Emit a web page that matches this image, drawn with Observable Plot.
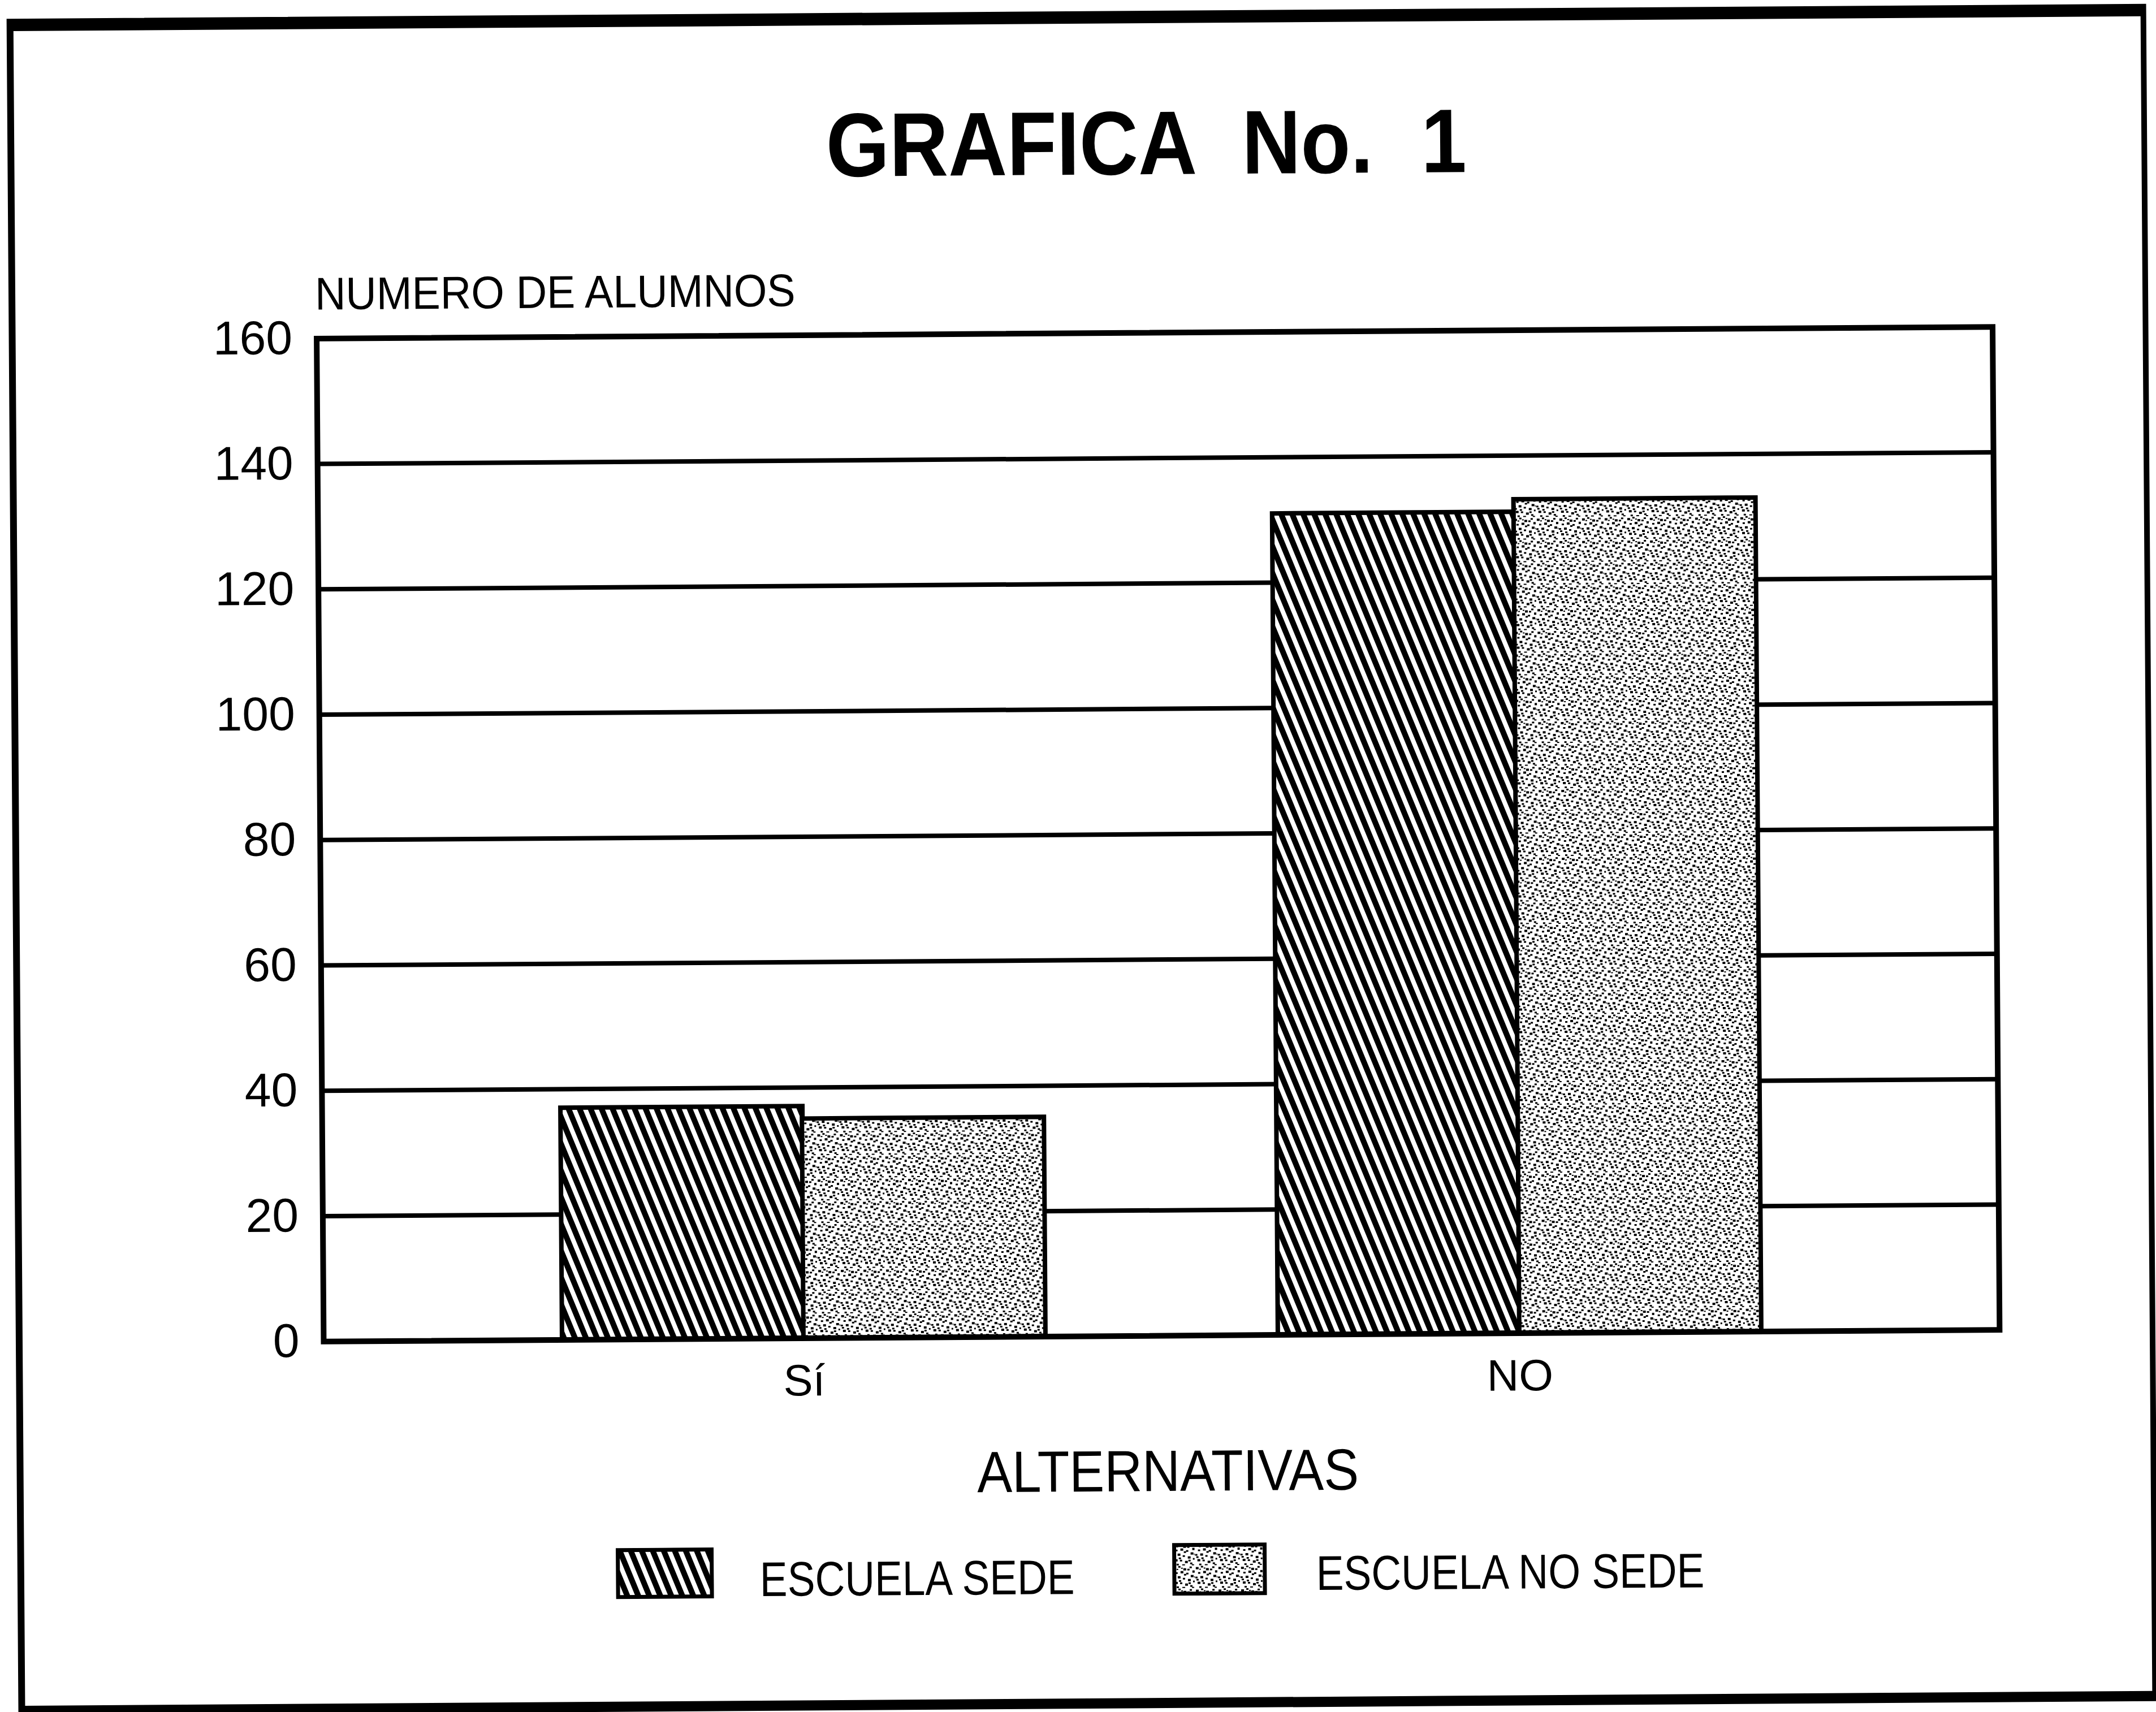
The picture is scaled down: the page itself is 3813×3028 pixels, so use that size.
<!DOCTYPE html>
<html>
<head>
<meta charset="utf-8">
<script src="https://cdn.jsdelivr.net/npm/d3@7"></script>
<script src="https://cdn.jsdelivr.net/npm/@observablehq/plot@0.6"></script>
<style>
  html, body { margin: 0; padding: 0; background: #fff; }
  #page { position: relative; width: 3813px; height: 3028px; overflow: hidden; background: #fff;
          font-family: "Liberation Sans", Arial, Helvetica, sans-serif; color: #000; }
  #sheet { position: absolute; left: 0; top: 0; width: 3813px; height: 3028px;
           transform: rotate(-0.4deg); transform-origin: 1906px 1514px; }
  #border { position: absolute; left: 22px; top: 20px; width: 3784px; height: 3002px; box-sizing: border-box;
            border-style: solid; border-color: #000; border-width: 22px 10px 18px 12px; }
  .txt { position: absolute; white-space: nowrap; line-height: 1; }
  #title { left: 2036px; top: 174px; font-size: 160px; font-weight: bold; word-spacing: 50px;
           transform: translateX(-50%) scaleX(0.9); }
  #ylabel { left: 564px; top: 470px; font-size: 81px; transform-origin: 0 0; transform: scaleX(0.93); }
  #xlabel { left: 2058px; top: 2551px; font-size: 103px; transform: translateX(-50%) scaleX(0.9); }
  .legtxt { font-size: 86px; transform-origin: 0 0; transform: scaleX(0.85); }
  #chart { position: absolute; left: 0; top: 400px; }
  .swatch { position: absolute; }
</style>
</head>
<body>
<div id="page">
  <div id="sheet">
    <div id="border"></div>
    <div id="title" class="txt">GRAFICA No. 1</div>
    <div id="ylabel" class="txt">NUMERO DE ALUMNOS</div>
    <div id="chart"></div>
    <div id="xlabel" class="txt">ALTERNATIVAS</div>
    <div id="legend"></div>
  </div>
</div>
<script>
// ---- data ----
const alternativas = ["Sí", "NO"];
const escuelaSede = [37, 131];
const escuelaNoSede = [35, 133];
const series = ["ESCUELA SEDE", "ESCUELA NO SEDE"];
const yTicks = [0, 20, 40, 60, 80, 100, 120, 140, 160];
const gridValues = [20, 40, 60, 80, 100, 120, 140];

const rows = alternativas.map((a, i) => ({alt: a, sede: escuelaSede[i], noSede: escuelaNoSede[i]}));

// ---- texture definitions (style only) ----
const stippleDots = [[2,3,5],[11,1,4],[20,5,5],[31,2,4],[36,9,5],[6,12,4],[15,10,5],[25,13,4],[33,17,5],
  [1,20,4],[10,19,5],[19,22,4],[28,24,5],[37,27,4],[5,29,5],[14,30,4],[23,32,5],[32,35,4],[8,37,4],
  [18,38,5],[27,6,4],[3,24,4],[39,19,4],[21,15,4],[12,26,4],[29,30,4],[35,38,4],[16,4,3],[8,6,3]];

function addPatterns(svgNode, prefix) {
  const svg = d3.select(svgNode);
  let defs = svg.select("defs");
  if (defs.empty()) defs = svg.insert("defs", ":first-child");
  const h = defs.append("pattern")
    .attr("id", prefix + "hatch")
    .attr("patternUnits", "userSpaceOnUse")
    .attr("width", 18).attr("height", 18)
    .attr("patternTransform", "rotate(-22)");
  h.append("rect").attr("width", 18).attr("height", 18).attr("fill", "#fff");
  h.append("rect").attr("x", 0).attr("y", 0).attr("width", 10).attr("height", 18).attr("fill", "#000");
  const s = defs.append("pattern")
    .attr("id", prefix + "stipple")
    .attr("patternUnits", "userSpaceOnUse")
    .attr("width", 40).attr("height", 40);
  s.append("rect").attr("width", 40).attr("height", 40).attr("fill", "#fff");
  s.selectAll("rect.d").data(stippleDots).join("rect").attr("class", "d")
    .attr("x", d => d[0]).attr("y", d => d[1]).attr("width", d => d[2]).attr("height", d => d[2] - 1)
    .attr("fill", "#000");
}

const plot = Plot.plot({
  width: 3813,
  height: 2100,
  marginLeft: 566,
  marginRight: 283,
  marginTop: 189,
  marginBottom: 137,
  style: {fontFamily: "Liberation Sans, Arial, sans-serif", background: "transparent", color: "#000", overflow: "visible"},
  x: {domain: alternativas, paddingInner: 0.325, paddingOuter: 0.333, label: null},
  y: {domain: [0, 160], label: null},
  marks: [
    Plot.ruleY(gridValues, {stroke: "#000", strokeWidth: 8}),
    Plot.barY(rows, {x: "alt", y: "sede", fill: "url(#mhatch)", stroke: "#000", strokeWidth: 8, insetRight: 427}),
    Plot.barY(rows, {x: "alt", y: "noSede", fill: "url(#mstipple)", stroke: "#000", strokeWidth: 8, insetLeft: 427}),
    Plot.frame({stroke: "#000", strokeWidth: 10}),
    Plot.axisY({ticks: yTicks, tickSize: 0, tickPadding: 43, fontSize: 84, label: null}),
    Plot.axisX({tickSize: 0, tickPadding: 46, fontSize: 78, label: null})
  ]
});
addPatterns(plot, "m");
document.getElementById("chart").appendChild(plot);

// ---- legend ----
const legend = d3.select("#legend");
const legendItems = [
  {label: series[0], sw: [1080, 2732, 174, 91], tx: [1335, 2746]},
  {label: series[1], sw: [2064, 2730, 168, 94], tx: [2319, 2742]}
];
legendItems.forEach((it, i) => {
  const svg = legend.append("svg").attr("class", "swatch")
    .style("left", it.sw[0] + "px").style("top", it.sw[1] + "px")
    .attr("width", it.sw[2]).attr("height", it.sw[3]);
  addPatterns(svg.node(), "l" + i);
  svg.append("rect").attr("x", 4).attr("y", 4).attr("width", it.sw[2] - 8).attr("height", it.sw[3] - 8)
    .attr("fill", i === 0 ? "url(#l0hatch)" : "url(#l1stipple)")
    .attr("stroke", "#000").attr("stroke-width", 7);
  legend.append("div").attr("class", "txt legtxt")
    .style("left", it.tx[0] + "px").style("top", it.tx[1] + "px")
    .text(it.label);
});
</script>
</body>
</html>
